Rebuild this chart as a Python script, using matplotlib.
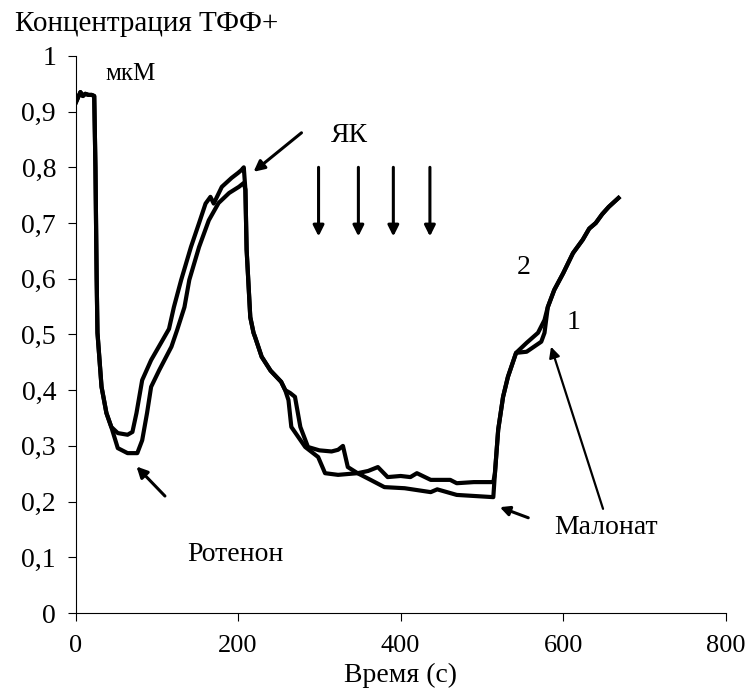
import matplotlib
matplotlib.use('Agg')
import matplotlib.pyplot as plt

plt.rcParams['font.family'] = ['Liberation Serif', 'DejaVu Serif']

# shared start (both curves)
t_start = [0, 3, 6, 9, 12, 16, 20, 23, 24.5, 26, 27, 32, 38, 44]
c_start = [0.915, 0.925, 0.935, 0.928, 0.932, 0.930, 0.930, 0.928, 0.80, 0.60, 0.503, 0.406, 0.359, 0.334]

# rotenone phase, curve 2 (upper)
t2_rot = [52, 64, 70, 75, 82, 93, 106, 115, 121, 130, 142, 152, 160, 166, 170, 180, 192, 200, 204, 207]
c2_rot = [0.323, 0.320, 0.325, 0.359, 0.418, 0.454, 0.487, 0.510, 0.549, 0.598, 0.657, 0.700, 0.735, 0.747, 0.735, 0.765, 0.781, 0.790, 0.795, 0.800]

# rotenone phase, curve 1 (lower)
t1_rot = [52, 64, 76, 82, 88, 93, 103, 118, 125, 134, 140, 152, 164, 176, 189, 201, 207]
c1_rot = [0.296, 0.287, 0.287, 0.310, 0.359, 0.406, 0.436, 0.478, 0.508, 0.549, 0.598, 0.657, 0.705, 0.736, 0.754, 0.765, 0.772]

# drop after peak (shared)
t_drop = [209, 210.5, 215, 219, 221, 229, 240, 253, 258]
c_drop = [0.760, 0.652, 0.531, 0.503, 0.495, 0.460, 0.435, 0.415, 0.400]

# succinate phase
t2_sk = [264, 270, 276.6, 286, 300, 315, 323, 329, 335, 347, 360, 372, 384, 400, 412, 420, 437, 461, 469, 490, 514]
c2_sk = [0.395, 0.388, 0.334, 0.298, 0.292, 0.290, 0.293, 0.300, 0.262, 0.251, 0.255, 0.262, 0.244, 0.246, 0.244, 0.251, 0.239, 0.239, 0.233, 0.235, 0.235]
t1_sk = [262, 265.5, 282.6, 298.5, 307, 323, 347, 363, 380, 405, 437, 445, 469, 514]
c1_sk = [0.382, 0.334, 0.298, 0.280, 0.251, 0.248, 0.251, 0.239, 0.226, 0.224, 0.217, 0.222, 0.212, 0.208]

# malonate phase
t_mal = [516, 520, 526, 532, 542]
c_mal = [0.251, 0.329, 0.388, 0.424, 0.467]
t2_mal = [555, 569, 577]
c2_mal = [0.485, 0.503, 0.526]
t1_mal = [555, 573, 577]
c1_mal = [0.469, 0.487, 0.503]
t_end = [581, 589, 600, 612, 624, 632, 640, 648, 656, 662, 668]
c_end = [0.549, 0.580, 0.610, 0.646, 0.670, 0.690, 0.700, 0.716, 0.729, 0.737, 0.745]

yak_times = [299, 348, 391, 436]
yticks = [0, 0.1, 0.2, 0.3, 0.4, 0.5, 0.6, 0.7, 0.8, 0.9, 1]
ytick_labels = ['0', '0,1', '0,2', '0,3', '0,4', '0,5', '0,6', '0,7', '0,8', '0,9', '1']
xticks = [0, 200, 400, 600, 800]

curve2_t = t_start + t2_rot + t_drop + t2_sk + t_mal + t2_mal + t_end
curve2_c = c_start + c2_rot + c_drop + c2_sk + c_mal + c2_mal + c_end
curve1_t = t_start + t1_rot + t_drop + t1_sk + t_mal + t1_mal + t_end
curve1_c = c_start + c1_rot + c_drop + c1_sk + c_mal + c1_mal + c_end

fig = plt.figure(figsize=(7.5, 6.99), dpi=100)
ax = fig.add_axes([0.1007, 0.123, 0.867, 0.797])

ax.plot(curve1_t, curve1_c, color='black', lw=3, solid_joinstyle='round')
ax.plot(curve2_t, curve2_c, color='black', lw=3, solid_joinstyle='round')

ax.set_xlim(0, 800)
ax.set_ylim(0, 1)
ax.set_xticks(xticks)
ax.set_yticks(yticks)
ax.set_yticklabels(ytick_labels)
ax.spines['top'].set_visible(False)
ax.spines['right'].set_visible(False)
ax.tick_params(axis='both', direction='out', length=6, width=0.8, labelsize=20)
ax.tick_params(axis='x', labelsize=19, pad=10)
ax.tick_params(axis='y', pad=8)
ax.set_xlabel('Время (с)', fontsize=20, labelpad=4)

fig.text(0.02, 0.965, 'Концентрация ТФФ+', fontsize=21, va='center', ha='left')
ax.text(68, 0.968, 'мкМ', fontsize=18, ha='center', va='center')

arrow = dict(arrowstyle='-|>', color='black', lw=2.2, mutation_scale=16, shrinkA=0, shrinkB=0)

# ЯК
ax.text(337, 0.858, 'ЯК', fontsize=20, ha='center', va='center')
ax.annotate('', xy=(219, 0.792), xytext=(278, 0.862), arrowprops=arrow)
for t in yak_times:
    ax.annotate('', xy=(t, 0.676), xytext=(t, 0.80), arrowprops=arrow)

# Ротенон
ax.text(197, 0.105, 'Ротенон', fontsize=20, ha='center', va='center')
ax.annotate('', xy=(75, 0.263), xytext=(110, 0.21), arrowprops=arrow)

# Малонат
ax.text(653, 0.153, 'Малонат', fontsize=20, ha='center', va='center')
ax.annotate('', xy=(585, 0.478), xytext=(649, 0.187),
            arrowprops=dict(arrow, lw=1.6))
ax.annotate('', xy=(522, 0.19), xytext=(557, 0.171),
            arrowprops=dict(arrow, mutation_scale=14))

ax.text(551, 0.621, '2', fontsize=20, ha='center', va='center')
ax.text(613, 0.521, '1', fontsize=20, ha='center', va='center')

fig.savefig('out.png', dpi=100)
